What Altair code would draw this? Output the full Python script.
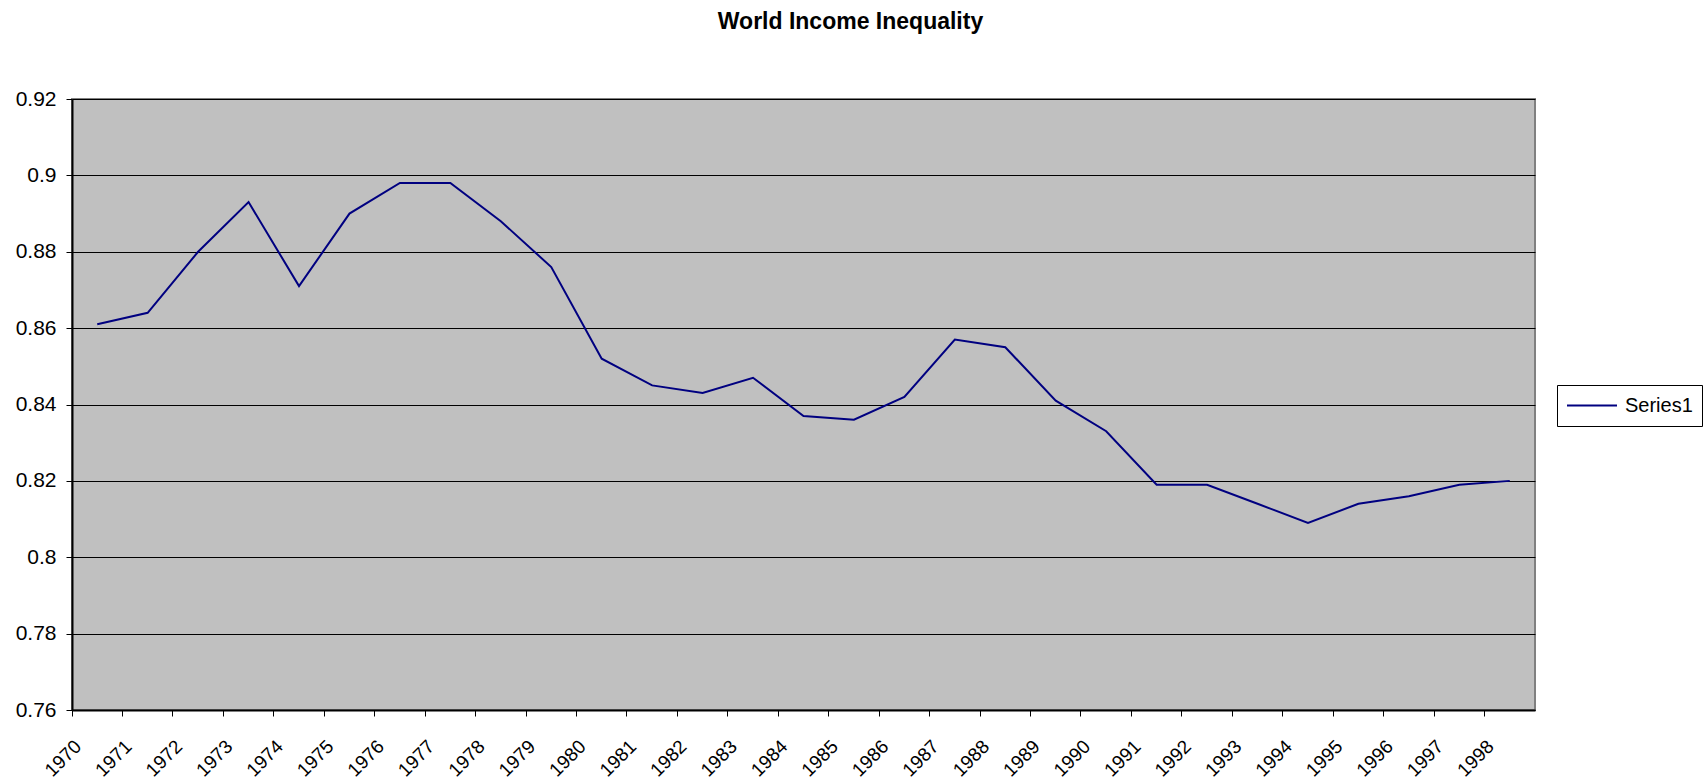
import altair as alt
import pandas as pd

years = ["1970", "1971", "1972", "1973", "1974", "1975", "1976", "1977", "1978", "1979",
         "1980", "1981", "1982", "1983", "1984", "1985", "1986", "1987", "1988", "1989",
         "1990", "1991", "1992", "1993", "1994", "1995", "1996", "1997", "1998"]
gini = [0.861, 0.864, 0.880, 0.893, 0.871, 0.890, 0.898, 0.898, 0.888, 0.876,
        0.852, 0.845, 0.843, 0.847, 0.837, 0.836, 0.842, 0.857, 0.855, 0.841,
        0.833, 0.819, 0.819, 0.814, 0.809, 0.814, 0.816, 0.819, 0.820]
series_name = "Series1"
y_ticks = [0.76, 0.78, 0.80, 0.82, 0.84, 0.86, 0.88, 0.90, 0.92]

df = pd.DataFrame({"year": years, "value": gini, "series": [series_name] * len(years)})

FONT = "Liberation Sans"

chart = alt.Chart(df).mark_line(strokeWidth=2).encode(
    x=alt.X(
        "year:N", sort=years,
        scale=alt.Scale(type="band", paddingInner=0, paddingOuter=0),
        axis=alt.Axis(
            title=None, bandPosition=0, labelAngle=-45, labelAlign="right",
            labelBaseline="middle", labelFontSize=19, labelFont=FONT, labelColor="black",
            labelPadding=27, labelOffset=-19, tickSize=6, tickColor="black", tickWidth=1,
            grid=False, domainColor="black", domainWidth=2, labelOverlap=False,
        ),
    ),
    y=alt.Y(
        "value:Q",
        scale=alt.Scale(domain=[0.76, 0.92], nice=False, zero=False),
        axis=alt.Axis(
            title=None, values=y_ticks, format=".2~f", labelFontSize=21, labelFont=FONT,
            labelColor="black", labelPadding=10, tickSize=6, tickColor="black", tickWidth=1,
            grid=True, gridColor="black", gridWidth=1, domainColor="black", domainWidth=2,
        ),
    ),
    color=alt.Color(
        "series:N",
        scale=alt.Scale(range=["#000080"]),
        legend=alt.Legend(
            title=None, orient="none", legendX=1485, legendY=286,
            symbolType="stroke", symbolSize=2500, symbolStrokeWidth=2, clipHeight=23,
            labelFontSize=20, labelFont=FONT, labelColor="black",
            strokeColor="black", fillColor="white", padding=9, labelOffset=7,
        ),
    ),
).properties(
    width=1463, height=611,
    title=alt.TitleParams(
        "World Income Inequality", font=FONT, fontSize=23, fontWeight="bold",
        anchor="middle", frame="group", dx=47, offset=36, baseline="alphabetic",
        color="black",
    ),
    padding={"left": 72, "top": 99, "right": 168, "bottom": 70},
    autosize=alt.AutoSizeParams(type="none"),
).configure_view(fill="#C0C0C0", stroke="#808080", strokeWidth=2)

chart.save("out.html", embed_options={"renderer": "svg", "actions": False})
